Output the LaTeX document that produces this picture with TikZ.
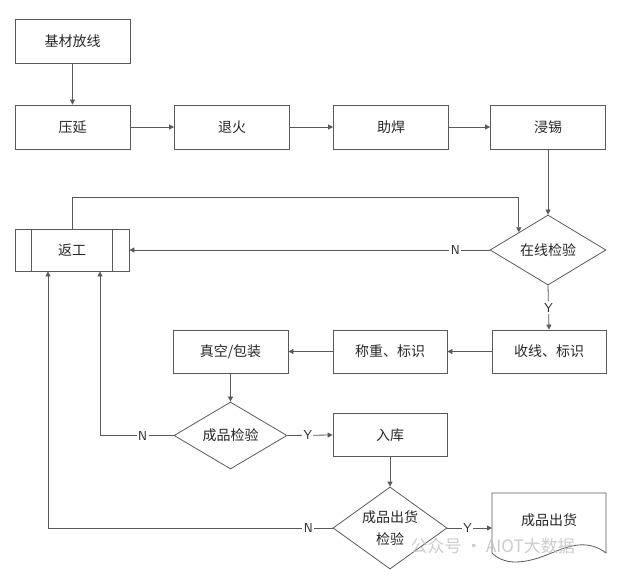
\documentclass[tikz,border=0pt]{standalone}
\usepackage{fontspec}
\setmainfont{Noto Sans CJK SC}
\usetikzlibrary{shapes.geometric,arrows.meta,calc}
\definecolor{ln}{HTML}{595959}
\definecolor{tx}{HTML}{262626}
\begin{document}
\begin{tikzpicture}[x=1pt,y=-1pt,
  every node/.style={font=\fontsize{14}{16}\selectfont, text=tx},
  box/.style={draw=ln, line width=0.8pt, minimum width=115pt, minimum height=44pt, inner sep=0pt},
  dia/.style={draw=ln, line width=0.8pt, diamond, inner sep=0pt, align=center},
  arr/.style={draw=ln, line width=0.8pt, -{Triangle[width=5pt,length=5pt]}},
  lbl/.style={fill=white, inner sep=1.5pt, text=tx, font=\fontsize{13}{15}\selectfont\sffamily}]
\useasboundingbox (0,0) rectangle (626,577);
\node[box] (a) at (72.5,41) {基材放线};
\node[box] (b) at (72.5,127) {压延};
\node[box] (c) at (232,127) {退火};
\node[box] (d) at (391,127) {助焊};
\node[box] (e) at (548,127) {浸锡};
\node[dia, aspect=1.66, minimum width=116pt, minimum height=70pt] (f) at (548,250) {在线检验};
\node[box, minimum width=114pt, minimum height=42pt] (rw) at (72,250) {返工};
\draw[ln, line width=0.8pt] ([xshift=17pt]rw.north west) -- ([xshift=17pt]rw.south west);
\draw[ln, line width=0.8pt] ([xshift=-17pt]rw.north east) -- ([xshift=-17pt]rw.south east);
\node[box, minimum width=114pt, minimum height=43pt] (g) at (549,351.5) {收线、标识};
\node[box, minimum width=114pt, minimum height=43pt] (h) at (390,351.5) {称重、标识};
\node[box, minimum width=115pt, minimum height=43pt] (i) at (230.5,351.5) {真空/包装};
\node[dia, aspect=1.69, minimum width=113pt, minimum height=67pt] (j) at (230.5,435.5) {成品检验};
\node[box, minimum width=114pt, minimum height=43pt] (k) at (390,435) {入库};
\node[dia, aspect=1.39, minimum width=114pt, minimum height=82pt, font=\fontsize{14}{22}\selectfont] (l) at (390,528) {成品出货\\检验};
% document shape
\coordinate (m1) at (492,493);
\draw[ln, line width=0.8pt] (m1) -- (606,493) -- (606,553)
  .. controls (598,547) and (590,544) .. (578,545)
  .. controls (558,547) and (540,562) .. (515,562)
  .. controls (505,562) and (497,558) .. (492,553) -- cycle;
\node (m) at (549,520) {成品出货};
% connectors
\draw[arr] (a) -- (b);
\draw[arr] (b) -- (c);
\draw[arr] (c) -- (d);
\draw[arr] (d) -- (e);
\draw[arr] (e) -- (f);
\coordinate (top) at (0,197);
\draw[arr] (rw.north) -- (rw.north |- top) -| (f.north west);
\draw[arr] (f.west) -- node[lbl, pos=0.095] {N} (rw.east);
\draw[arr] (f.south) -- node[lbl, pos=0.5] {Y} (g.north);
\draw[arr] (g) -- (h);
\draw[arr] (h) -- (i);
\draw[arr] (i) -- (j);
\coordinate (n2) at (100,0);
\draw[arr] (j.west) -- node[lbl, pos=0.42] {N} (j.west -| n2) -- (rw.south -| n2);
\draw[arr] (j.east) -- node[lbl, pos=0.45] {Y} (k.west);
\draw[arr] (k) -- (l);
\coordinate (n3) at (48,0);
\draw[arr] (l.west) -- node[lbl, pos=0.085] {N} (l.west -| n3) -- (rw.south -| n3);
\draw[arr] (l.east) -- node[lbl, pos=0.45] {Y} (l.east -| m1);
% watermark
\node[text=black!25, opacity=0.8, font=\fontsize{17}{19}\selectfont, anchor=west] (w) at (407,546) {公众号 · AIOT大数据};
\end{tikzpicture}
\end{document}
